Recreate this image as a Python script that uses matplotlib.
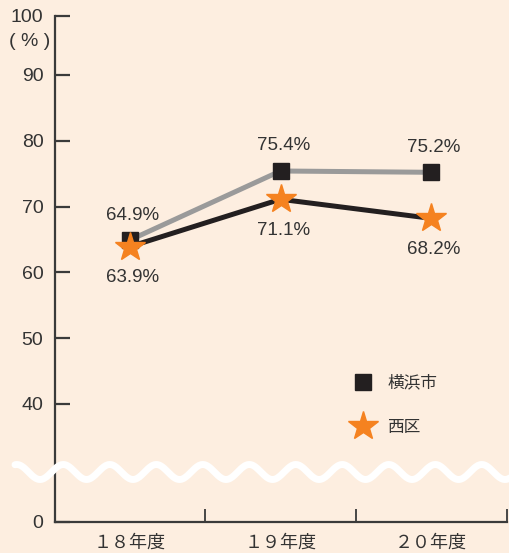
import numpy as np
import matplotlib
matplotlib.use("Agg")
import matplotlib.pyplot as plt
from matplotlib.lines import Line2D

plt.rcParams['font.family'] = ['Liberation Sans', 'Noto Sans CJK JP', 'DejaVu Sans']

# ---- data ----
categories = ['１８年度', '１９年度', '２０年度']
yokohama = [64.9, 75.4, 75.2]
nishi = [63.9, 71.1, 68.2]
series_names = ['横浜市', '西区']
ytick_values = [40, 50, 60, 70, 80, 90]
ytick_labels = ['40', '50', '60', '70', '80', '90']

BG = '#FDEEE0'
DARK = '#231F20'
TXT = '#333333'
GRAY = '#9A9A9A'
ORANGE = '#F58220'

W, H, DPI = 509, 553, 100
fig = plt.figure(figsize=(W / DPI, H / DPI), dpi=DPI, facecolor=BG)
left_px, right_px, top_px, bot_px = 54.5, 506.5, 15.7, 521.7
ax = fig.add_axes([left_px / W, 1 - bot_px / H, (right_px - left_px) / W, (bot_px - top_px) / H])
ax.set_facecolor(BG)

ymin, ymax = 22.1, 99.0  # broken axis: bottom shows 0, top tick shows 100
ax.set_ylim(ymin, ymax)
ax.set_xlim(0, 3)
x = np.arange(len(categories)) + 0.5

ax.plot(x, yokohama, color=GRAY, lw=3.6, zorder=3, solid_capstyle='butt')
ax.plot(x, nishi, color=DARK, lw=3.6, zorder=4, solid_capstyle='butt')
ax.plot(x, yokohama, ls='none', marker='s', ms=11, color=DARK, zorder=5)
ax.plot(x, nishi, ls='none', marker='*', ms=22, color=ORANGE, mec=ORANGE, zorder=6)

for xi, v in zip(x, yokohama):
    ax.annotate(f'{v:.1f}%', (xi, v), xytext=(3, 25), textcoords='offset pixels',
                ha='center', va='center', fontsize=13.5, color=TXT)
for xi, v in zip(x, nishi):
    ax.annotate(f'{v:.1f}%', (xi, v), xytext=(3, -31), textcoords='offset pixels',
                ha='center', va='center', fontsize=13.5, color=TXT)

# axes styling
for s in ['top', 'right']:
    ax.spines[s].set_visible(False)
for s in ['left', 'bottom']:
    ax.spines[s].set_color('#3A3A3A')
    ax.spines[s].set_linewidth(1.6)

ax.set_yticks([ymin] + ytick_values + [ymax])
ax.set_yticklabels(['0'] + ytick_labels + ['100'])
ax.tick_params(axis='y', direction='in', length=11, width=1.6, color='#3A3A3A',
               labelsize=14, labelcolor=TXT, pad=8)
ax.set_xticks([1, 2, 3])
ax.set_xticklabels([])
ax.set_xticks(x, minor=True)
ax.set_xticklabels(categories, minor=True)
ax.tick_params(axis='x', which='major', direction='in', length=9.5, width=1.3, color='#3A3A3A')
ax.tick_params(axis='x', which='minor', length=0, labelsize=13, labelcolor=TXT, pad=9)

fig.text(30 / W, 1 - 42 / H, '( % )', ha='center', va='center', fontsize=14, color=TXT)

# legend
handles = [Line2D([], [], ls='none', marker='s', ms=11, color=DARK),
           Line2D([], [], ls='none', marker='*', ms=22, color=ORANGE)]
leg = fig.legend(handles, series_names, loc='upper left', bbox_to_anchor=(350 / W, 1 - 375 / H),
                 frameon=False, fontsize=12, handlelength=1.5, handletextpad=0.75,
                 labelspacing=1.75, borderaxespad=0, borderpad=0)
for t in leg.get_texts():
    t.set_color(TXT)

# wavy axis-break decoration
wx = np.linspace(15, W + 5, 800)
wy = 81 + 7.5 * np.cos(2 * np.pi * (wx - 63.3) / 46.5)
fig.add_artist(Line2D(wx / W, wy / H, transform=fig.transFigure, color='white',
                      lw=5, solid_capstyle='round', zorder=10))

fig.savefig('out.png', dpi=DPI, facecolor=BG)
